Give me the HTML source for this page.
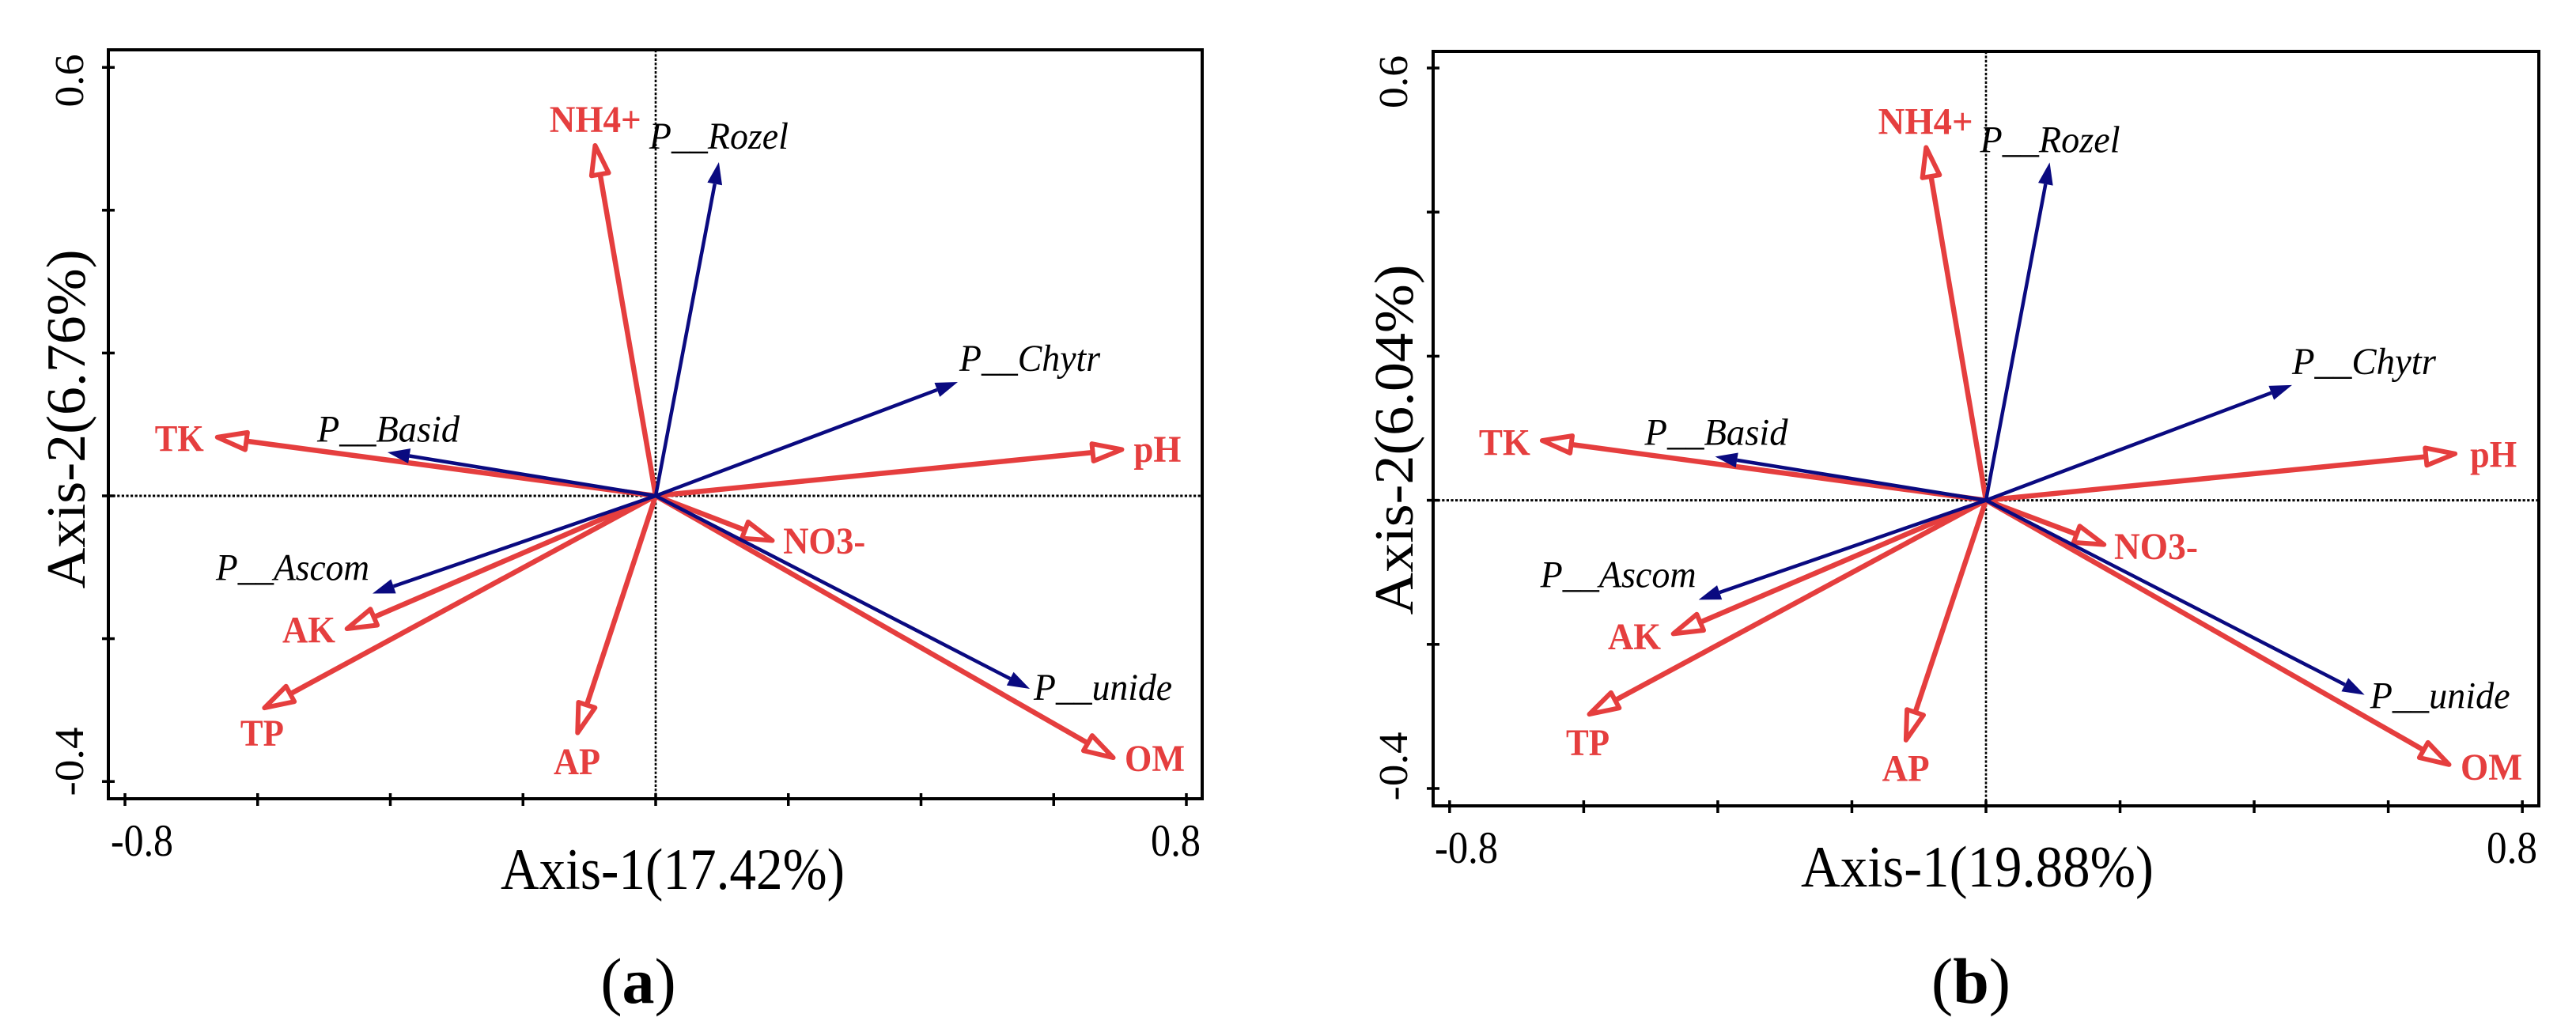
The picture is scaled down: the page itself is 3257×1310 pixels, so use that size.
<!DOCTYPE html>
<html lang="en">
<head>
<meta charset="utf-8">
<title>RDA biplots of soil properties and fungal phyla</title>
<style>
html,body{margin:0;padding:0;background:#fff;}
svg{display:block;}
text{font-family:"Liberation Serif",serif;}
</style>
</head>
<body>
<svg id="figure" xmlns="http://www.w3.org/2000/svg" width="3257" height="1310" viewBox="0 0 3257 1310">
  <rect x="0" y="0" width="3257" height="1310" fill="#fff"/>
  <g id="panel-a"></g>
  <g id="panel-b"></g>
  <text x="807" y="1268" font-size="82" text-anchor="middle">(<tspan font-weight="bold">a</tspan>)</text>
  <text x="2492" y="1268" font-size="82" text-anchor="middle">(<tspan font-weight="bold">b</tspan>)</text>
</svg>
<script>
// ---- shared categories and tick labels ----
const envCategories = ['NH4+', 'TK', 'pH', 'NO3-', 'OM', 'AP', 'TP', 'AK'];
const taxaCategories = ['P__Rozel', 'P__Chytr', 'P__Basid', 'P__Ascom', 'P__unide'];
const xTickValues = [-0.8, -0.6, -0.4, -0.2, 0, 0.2, 0.4, 0.6, 0.8];
const yTickValues = [-0.4, -0.2, 0, 0.2, 0.4, 0.6];
const xTickLabels = ['-0.8', '0.8'];
const yTickLabels = ['-0.4', '0.6'];

// ---- panel (a) values ----
const envAxis1A = [-0.0921, -0.6655, 0.7075, 0.1803, 0.6939, -0.1192, -0.5939, -0.4697];
const envAxis2A = [0.495, 0.0827, 0.0653, -0.0642, -0.3688, -0.336, -0.299, -0.1878];
const taxaAxis1A = [0.0953, 0.4555, -0.4042, -0.4268, 0.564];
const taxaAxis2A = [0.4673, 0.1594, 0.0609, -0.1368, -0.2702];

// ---- panel (b) values ----
const envAxis1B = [-0.0901, -0.6666, 0.7044, 0.1805, 0.6948, -0.1208, -0.5957, -0.4707];
const envAxis2B = [0.494, 0.0835, 0.065, -0.063, -0.369, -0.337, -0.299, -0.187];
const taxaAxis1B = [0.095, 0.4565, -0.404, -0.4286, 0.5647];
const taxaAxis2B = [0.469, 0.160, 0.0606, -0.138, -0.27];

const SVG_NS = 'http://www.w3.org/2000/svg';
const RED = '#e53e3e';
const BLUE = '#0a0a80';

function make(parent, tag, props) {
  const el = document.createElementNS(SVG_NS, tag);
  for (const k in props) el.setAttribute(k, props[k]);
  parent.appendChild(el);
  return el;
}

function arrow(g, x0, y0, x1, y1, color, isOpen) {
  const dx = x1 - x0, dy = y1 - y0;
  const len = Math.hypot(dx, dy);
  const ux = dx / len, uy = dy / len;
  const px = -uy, py = ux;
  const inset = isOpen ? 4 : 0;
  const headLen = isOpen ? 37 : 28;
  const half = isOpen ? 11 : 9.5;
  const tx = x1 - ux * inset, ty = y1 - uy * inset;
  const bx = x1 - ux * (inset + headLen), by = y1 - uy * (inset + headLen);
  const shaft = make(g, 'line', {
    x1: x0, y1: y0, x2: bx, y2: by, stroke: color,
    'stroke-width': isOpen ? 6.5 : 4.5
  });
  
  
  const head = make(g, 'polygon', {
    points: [tx + ',' + ty, (bx + px * half) + ',' + (by + py * half), (bx - px * half) + ',' + (by - py * half)].join(' '),
    fill: isOpen ? '#fff' : color,
    stroke: isOpen ? color : 'none',
    'stroke-width': isOpen ? 6 : 0,
    'stroke-linejoin': 'round'
  });
  
  
}

function drawPanel(cfg) {
  const g = document.getElementById(cfg.id);
  const xScale = v => cfg.x0 + v * cfg.xUnit;
  const yScale = v => cfg.y0 - v * cfg.yUnit;
  const f = cfg.frame;

  // zero reference lines
  const hZero = make(g, 'line', { x1: f.l, y1: yScale(0), x2: f.r, y2: yScale(0), stroke: '#000', 'stroke-width': 3, 'stroke-dasharray': '3.2 2.4' });
  
  
  const vZero = make(g, 'line', { x1: xScale(0), y1: f.t, x2: xScale(0), y2: f.b, stroke: '#000', 'stroke-width': 2.6, 'stroke-dasharray': '3.2 2.2' });
  
  

  // frame
  const frame = make(g, 'rect', { x: f.l, y: f.t, width: f.r - f.l, height: f.b - f.t, fill: 'none', stroke: '#000', 'stroke-width': 4 });
  
  

  // ticks
  xTickValues.forEach(v => {
    const t = make(g, 'line', { x1: xScale(v), y1: f.b - 7, x2: xScale(v), y2: f.b + 9, stroke: '#000', 'stroke-width': 3.5 });
    
    
  });
  yTickValues.forEach(v => {
    const t = make(g, 'line', { x1: f.l - 8, y1: yScale(v), x2: f.l + 8, y2: yScale(v), stroke: '#000', 'stroke-width': 3.5 });
    
    
  });

  // tick labels
  const xl0 = make(g, 'text', { x: cfg.xLabelLeft, y: cfg.xLabelBase, 'font-size': 57, textLength: cfg.xLabelLeftW, lengthAdjust: 'spacingAndGlyphs', fill: '#000' });
  xl0.textContent = xTickLabels[0];
  
  
  const xl1 = make(g, 'text', { x: cfg.xLabelRight, y: cfg.xLabelBase, 'font-size': 57, textLength: cfg.xLabelRightW, lengthAdjust: 'spacingAndGlyphs', fill: '#000' });
  xl1.textContent = xTickLabels[1];
  
  

  const yl0 = make(g, 'text', { transform: 'translate(' + cfg.yLabelBase + ',' + cfg.yLabelMinC + ') rotate(-90)', 'font-size': 52, 'text-anchor': 'middle', textLength: 87, lengthAdjust: 'spacingAndGlyphs', fill: '#000' });
  yl0.textContent = yTickLabels[0];
  
  
  const yl1 = make(g, 'text', { transform: 'translate(' + cfg.yLabelBase + ',' + cfg.yLabelMaxC + ') rotate(-90)', 'font-size': 52, 'text-anchor': 'middle', textLength: 67, lengthAdjust: 'spacingAndGlyphs', fill: '#000' });
  yl1.textContent = yTickLabels[1];
  
  

  // axis titles
  const xt = make(g, 'text', { x: cfg.xTitle.x, y: cfg.xTitle.y, 'font-size': 74, textLength: cfg.xTitle.w, lengthAdjust: 'spacingAndGlyphs', fill: '#000' });
  xt.textContent = cfg.xTitle.text;
  
  
  const yt = make(g, 'text', { transform: 'translate(' + cfg.yTitle.x + ',' + cfg.yTitle.c + ') rotate(-90)', 'font-size': 70, 'text-anchor': 'middle', textLength: cfg.yTitle.w, lengthAdjust: 'spacingAndGlyphs', fill: '#000' });
  yt.textContent = cfg.yTitle.text;
  
  

  // environmental arrows
  envCategories.forEach((name, i) => {
    const group = make(g, 'g', {});
    
    
    const tx = xScale(cfg.envX[i]), ty = yScale(cfg.envY[i]);
    arrow(group, xScale(0), yScale(0), tx, ty, RED, true);
    const o = cfg.envLabelOffsets[name];
    const lab = make(group, 'text', { x: tx + o.dx, y: ty + o.dy, 'font-size': 48, 'font-weight': 'bold', fill: RED, textLength: o.w, lengthAdjust: 'spacingAndGlyphs' });
    lab.textContent = name;
    
    
  });

  // taxa arrows
  taxaCategories.forEach((name, i) => {
    const group = make(g, 'g', {});
    
    
    const tx = xScale(cfg.taxaX[i]), ty = yScale(cfg.taxaY[i]);
    arrow(group, xScale(0), yScale(0), tx, ty, BLUE, false);
    const o = cfg.taxaLabelOffsets[name];
    const lab = make(group, 'text', { x: tx + o.dx, y: ty + o.dy, 'font-size': 48, 'font-style': 'italic', fill: '#000', textLength: o.w, lengthAdjust: 'spacingAndGlyphs' });
    lab.textContent = name;
    
    
  });
}

drawPanel({
  id: 'panel-a',
  x0: 829, xUnit: 838.75, y0: 627, yUnit: 903,
  frame: { l: 137, r: 1520, t: 63, b: 1010 },
  envX: envAxis1A, envY: envAxis2A, taxaX: taxaAxis1A, taxaY: taxaAxis2A,
  xLabelLeft: 140, xLabelLeftW: 79, xLabelRight: 1455, xLabelRightW: 63, xLabelBase: 1082,
  yLabelBase: 105, yLabelMinC: 963, yLabelMaxC: 102,
  xTitle: { text: 'Axis-1(17.42%)', x: 633, y: 1124, w: 435 },
  yTitle: { text: 'Axis-2(6.76%)', x: 107, c: 530, w: 429 },
  envLabelOffsets: {
    'NH4+': { dx: -57, dy: -13, w: 116 }, 'TK': { dx: -75, dy: 18, w: 62 },
    'pH': { dx: 11, dy: 16, w: 60 }, 'NO3-': { dx: 10, dy: 15, w: 104 },
    'OM': { dx: 11, dy: 15, w: 76 }, 'AP': { dx: -29, dy: 48.5, w: 59 },
    'TP': { dx: -27, dy: 46, w: 55 }, 'AK': { dx: -78, dy: 16, w: 67 }
  },
  taxaLabelOffsets: {
    'P__Rozel': { dx: -88, dy: -17, w: 176 }, 'P__Chytr': { dx: 2, dy: -14, w: 178 },
    'P__Basid': { dx: -89, dy: -13.5, w: 180 }, 'P__Ascom': { dx: -198, dy: -17, w: 194 },
    'P__unide': { dx: 5, dy: 14, w: 175 }
  }
});

drawPanel({
  id: 'panel-b',
  x0: 2511, xUnit: 847.7, y0: 632.6, yUnit: 911,
  frame: { l: 1812, r: 3210, t: 65, b: 1019 },
  envX: envAxis1B, envY: envAxis2B, taxaX: taxaAxis1B, taxaY: taxaAxis2B,
  xLabelLeft: 1814, xLabelLeftW: 80, xLabelRight: 3144, xLabelRightW: 64, xLabelBase: 1091,
  yLabelBase: 1779, yLabelMinC: 969, yLabelMaxC: 103.5,
  xTitle: { text: 'Axis-1(19.88%)', x: 2277, y: 1121, w: 446 },
  yTitle: { text: 'Axis-2(6.04%)', x: 1786, c: 556, w: 443 },
  envLabelOffsets: {
    'NH4+': { dx: -60, dy: -13, w: 120 }, 'TK': { dx: -76, dy: 19, w: 65 },
    'pH': { dx: 15, dy: 17, w: 59 }, 'NO3-': { dx: 9, dy: 17, w: 106 },
    'OM': { dx: 11, dy: 17, w: 78 }, 'AP': { dx: -29, dy: 48, w: 60 },
    'TP': { dx: -26, dy: 50, w: 55 }, 'AK': { dx: -79, dy: 18, w: 67 }
  },
  taxaLabelOffsets: {
    'P__Rozel': { dx: -88, dy: -13, w: 177 }, 'P__Chytr': { dx: 0, dy: -14, w: 182 },
    'P__Basid': { dx: -89, dy: -15, w: 181 }, 'P__Ascom': { dx: -200, dy: -16, w: 197 },
    'P__unide': { dx: 7, dy: 17, w: 177 }
  }
});
</script>
</body>
</html>
